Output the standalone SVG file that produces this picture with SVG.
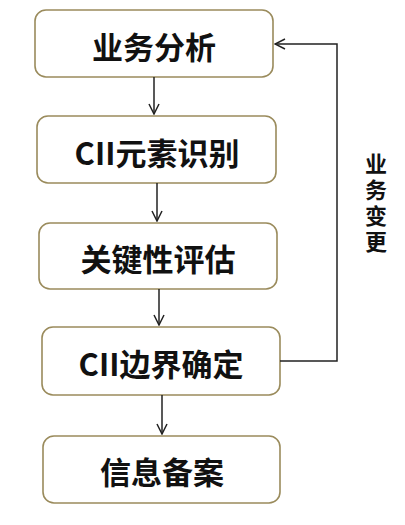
<svg xmlns="http://www.w3.org/2000/svg" width="405" height="525" viewBox="0 0 405 525">
<style>
.box{fill:#ffffff;stroke:#9a8b5c;stroke-width:1.6}
.lbl{font-family:"Noto Sans CJK SC","Liberation Sans",sans-serif;font-weight:bold;font-size:31px;fill:#111;text-anchor:middle;dominant-baseline:central}
.side{font-family:"Noto Sans CJK SC",sans-serif;font-weight:bold;font-size:22px;fill:#111;text-anchor:middle;writing-mode:vertical-rl;letter-spacing:4px}
.edge{fill:none;stroke:#222;stroke-width:1.5}
</style>
<defs>
<marker id="arr" viewBox="0 0 12 12" refX="11" refY="6" markerWidth="12" markerHeight="12" markerUnits="userSpaceOnUse" orient="auto">
<path d="M1,1 L11,6 L1,11" fill="none" stroke="#222" stroke-width="1.5"/>
</marker>
</defs>
<rect width="405" height="525" fill="#ffffff"/>
<g id="n1"><rect class="box" x="35" y="10" width="238" height="67" rx="11"/><text class="lbl" x="154" y="45">业务分析</text></g>
<g id="n2"><rect class="box" x="37" y="116" width="239" height="67" rx="11"/><text class="lbl" x="157" y="151">CII元素识别</text></g>
<g id="n3"><rect class="box" x="39" y="223" width="238" height="66" rx="11"/><text class="lbl" x="158" y="257">关键性评估</text></g>
<g id="n4"><rect class="box" x="42" y="327" width="238" height="68" rx="11"/><text class="lbl" x="161" y="362">CII边界确定</text></g>
<g id="n5"><rect class="box" x="43" y="436" width="237" height="67" rx="11"/><text class="lbl" x="162" y="470">信息备案</text></g>
<g id="edges">
<line class="edge" x1="154" y1="77" x2="154" y2="114" marker-end="url(#arr)"/>
<line class="edge" x1="157" y1="183" x2="157" y2="221" marker-end="url(#arr)"/>
<line class="edge" x1="159" y1="289" x2="159" y2="325" marker-end="url(#arr)"/>
<line class="edge" x1="162" y1="395" x2="162" y2="434" marker-end="url(#arr)"/>
<polyline class="edge" points="280,361 337,361 337,44 275,44" marker-end="url(#arr)"/>
</g>
<g id="side-label">
<text class="side" x="376" y="205">业务变更</text>
</g>
</svg>
